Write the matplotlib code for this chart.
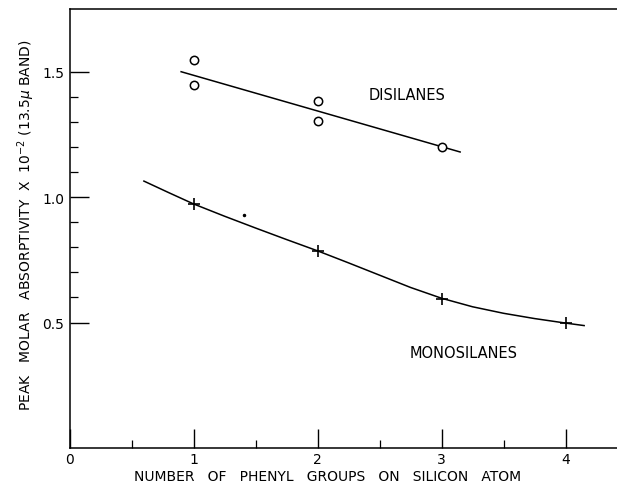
import matplotlib
matplotlib.use("Agg")
import matplotlib.pyplot as plt
from matplotlib.ticker import FixedLocator

# Data
di_x = [1, 1, 2, 2, 3]
di_y = [1.546, 1.446, 1.384, 1.304, 1.20]
di_fit_x = [0.9, 3.15]
di_fit_y = [1.50, 1.18]

mono_x = [1, 2, 3, 4]
mono_y = [0.972, 0.786, 0.594, 0.498]
mono_fit_x = [0.6, 0.8, 1.0, 1.25, 1.5, 1.75, 2.0, 2.25, 2.5, 2.75, 3.0, 3.25, 3.5, 3.75, 4.0, 4.15]
mono_fit_y = [1.064, 1.018, 0.973, 0.924, 0.877, 0.831, 0.786, 0.738, 0.689, 0.640, 0.597, 0.563, 0.537, 0.516, 0.498, 0.488]
stray_x = [1.41]
stray_y = [0.928]

x_major = [0, 1, 2, 3, 4]
x_labels = ["0", "1", "2", "3", "4"]
x_minor = [0.5, 1.5, 2.5, 3.5]
y_major = [0.5, 1.0, 1.5]
y_labels = ["0.5", "1.0", "1.5"]
y_minor = [0.6, 0.7, 0.8, 0.9, 1.1, 1.2, 1.3, 1.4]

plt.rcParams['font.family'] = ['DejaVu Sans']

fig = plt.figure(figsize=(6.17, 4.89), dpi=100)
ax = fig.add_axes([69.5 / 617, 40 / 489, 1 - 69.5 / 617, 439 / 489])

ax.plot(di_fit_x, di_fit_y, color='black', lw=1.1)
ax.plot(di_x, di_y, linestyle='none', marker='o', mfc='white', mec='black',
        ms=6, mew=1.1)
ax.plot(mono_fit_x, mono_fit_y, color='black', lw=1.1)
ax.plot(mono_x, mono_y, linestyle='none', marker='+', color='black', ms=8, mew=1.2)
ax.plot(stray_x, stray_y, linestyle='none', marker='.', color='black', ms=3)

ax.set_xlim(0, 4.415)
ax.set_ylim(0, 1.75)

ax.xaxis.set_major_locator(FixedLocator(x_major))
ax.set_xticklabels(x_labels, fontsize=10)
ax.xaxis.set_minor_locator(FixedLocator(x_minor))
ax.yaxis.set_major_locator(FixedLocator(y_major))
ax.set_yticklabels(y_labels, fontsize=10)
ax.yaxis.set_minor_locator(FixedLocator(y_minor))

ax.tick_params(which='major', direction='in', length=14, width=1.0, pad=3)
ax.tick_params(which='minor', direction='in', length=6, width=0.9)
ax.tick_params(axis='y', which='major', pad=4)

ax.spines['right'].set_visible(False)
for s in ['left', 'bottom', 'top']:
    ax.spines[s].set_linewidth(1.1)

ax.text(407 / 617, 1 - 96 / 489, "DISILANES", transform=fig.transFigure,
        ha='center', va='center', fontsize=10.5)
ax.text(464 / 617, 1 - 354 / 489, "MONOSILANES", transform=fig.transFigure,
        ha='center', va='center', fontsize=10.5)

fig.text(328 / 617, 1 - 477 / 489, "NUMBER   OF   PHENYL   GROUPS   ON   SILICON   ATOM",
         ha='center', va='center', fontsize=10)
fig.text(26 / 617, 1 - 225 / 489,
         r"PEAK   MOLAR   ABSORPTIVITY  X  10$^{-2}$ (13.5$\mu$ BAND)",
         ha='center', va='center', rotation=90, fontsize=10)

fig.savefig("out.png", dpi=100)
